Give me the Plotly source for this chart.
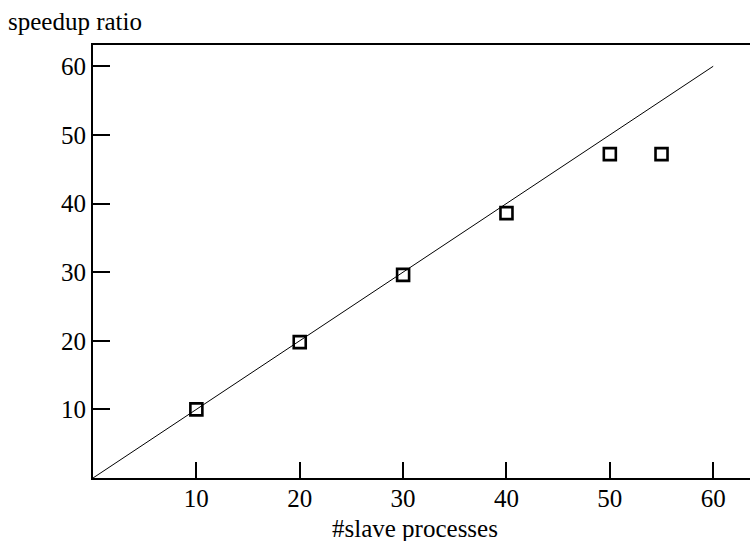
import plotly.graph_objects as go

processes = [10, 20, 30, 40, 50, 55]
speedup = [10.0, 19.8, 29.6, 38.6, 47.2, 47.2]
ideal_x = [0, 60]
ideal_y = [0, 60]
tick_vals = [10, 20, 30, 40, 50, 60]

font_family = "Liberation Serif, Times New Roman, serif"

fig = go.Figure()
fig.add_trace(go.Scatter(x=ideal_x, y=ideal_y, mode="lines",
                         line=dict(color="black", width=1), showlegend=False,
                         hoverinfo="skip"))
fig.add_trace(go.Scatter(x=processes, y=speedup, mode="markers",
                         marker=dict(symbol="square-open", size=12, color="black",
                                     line=dict(color="black", width=2.6)),
                         showlegend=False))

fig.update_layout(
    width=750, height=541,
    margin=dict(l=93, r=0, t=45, b=63, autoexpand=False),
    paper_bgcolor="white", plot_bgcolor="white",
    font=dict(family=font_family, size=25, color="black"),
    xaxis=dict(range=[0, 63.56], tickvals=tick_vals, ticks="inside", ticklen=16,
               tickwidth=2, tickcolor="black", showline=True, linewidth=2,
               linecolor="black", mirror=True, showgrid=False, zeroline=False,
               tickfont=dict(size=25), automargin=False, ticklabelstandoff=-3),
    yaxis=dict(range=[0, 63.1], tickvals=tick_vals, ticks="inside", ticklen=17,
               tickwidth=2, tickcolor="black", showline=True, linewidth=2,
               linecolor="black", mirror=False, showgrid=False, zeroline=False,
               tickfont=dict(size=25), automargin=False),
    annotations=[
        dict(text="speedup ratio", xref="paper", yref="paper",
             x=(6 - 93) / 657, y=1 + 45 / 433, xanchor="left", yanchor="top",
             showarrow=False, font=dict(size=25), yshift=-6),
        dict(text="#slave processes", xref="paper", yref="paper",
             x=(415 - 93) / 657, y=0, xanchor="center", yanchor="top",
             showarrow=False, font=dict(size=25), yshift=-35),
    ],
)

fig.write_html("out.html",
               config={"displayModeBar": False},
               post_script="document.body.style.margin='0';"
                           "document.documentElement.style.overflow='hidden';")
